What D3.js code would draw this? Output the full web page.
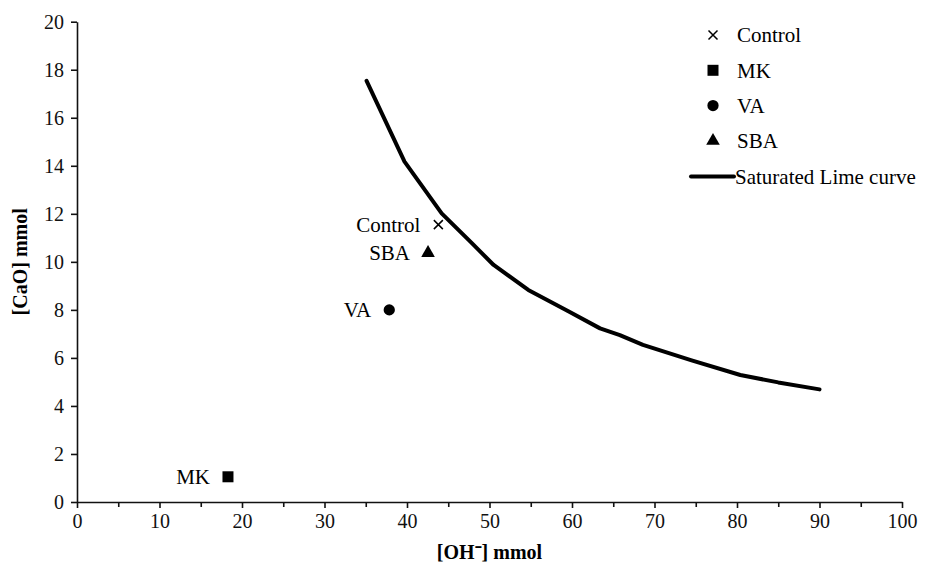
<!DOCTYPE html>
<html><head><meta charset="utf-8">
<script src="https://cdn.jsdelivr.net/npm/d3@7"></script>
<style>body{margin:0;background:#fff}svg{display:block}svg text{font-family:"Liberation Serif",serif !important}</style>
</head><body><svg id="c" width="932" height="567" font-family="Liberation Serif"></svg>
<script>
const xTicks = [0,10,20,30,40,50,60,70,80,90,100];
const yTicks = [0,2,4,6,8,10,12,14,16,18,20];
const seriesNames = ["Control","MK","VA","SBA"];
const seriesSymbols = ["x","square","circle","triangle"];
const seriesX = [43.8, 18.3, 37.85, 42.55];
const seriesY = [11.55, 1.05, 8.0, 10.37];
const curveX = [35.1, 39.7, 44.2, 47.8, 50.5, 54.7, 59.5, 63.4, 65.8, 68.6, 74.5, 80.4, 85.0, 90.0];
const curveY = [17.54, 14.17, 12.02, 10.8, 9.87, 8.83, 7.95, 7.23, 6.95, 6.54, 5.9, 5.29, 4.98, 4.69];
const curveName = "Saturated Lime curve";
const xTitle = "[OH\u207B] mmol";
const yTitle = "[CaO] mmol";
const FF = "Liberation Serif";

const svg = d3.select("#c");
const x = d3.scaleLinear().domain([0,100]).range([77,902]);
const y = d3.scaleLinear().domain([0,20]).range([502,21.7]);

// axes
const xAx = svg.append("g").attr("transform","translate(0,502)")
  .call(d3.axisBottom(x).tickValues(xTicks).tickSize(6).tickSizeOuter(0).tickPadding(4));
const xMinor = svg.append("g").attr("transform","translate(0,502)")
  .call(d3.axisBottom(x).tickValues(d3.range(5,100,10)).tickSize(5).tickFormat(""));
xMinor.select(".domain").remove();
const yAx = svg.append("g").attr("transform","translate(77,0)")
  .call(d3.axisLeft(y).tickValues(yTicks).tickSize(6).tickSizeOuter(0).tickPadding(7));
[xAx,yAx,xMinor].forEach(g=>{
  g.attr("font-family",FF).attr("font-size",20);
  g.selectAll("path,line").attr("stroke","#111").attr("stroke-width",1.6);
  g.selectAll("text").attr("font-size",20).attr("fill","#111").attr("font-family",FF);
});
xAx.selectAll("text").attr("dy","0.82em");
yAx.selectAll("text").attr("dy","0.34em");

// titles
svg.append("text").attr("x",x(50)).attr("y",559).attr("text-anchor","middle").attr("font-family",FF)
  .attr("font-size",20).attr("font-weight","bold").text(xTitle);
svg.append("text").attr("transform",`translate(27,${y(10)}) rotate(-90)`).attr("text-anchor","middle")
  .attr("font-family",FF).attr("font-size",20).attr("font-weight","bold").text(yTitle);

// curve
const line = d3.line().x(d=>x(d[0])).y(d=>y(d[1]));
svg.append("path").datum(curveX.map((v,i)=>[v,curveY[i]]))
  .attr("d",line).attr("fill","none").attr("stroke","#000").attr("stroke-width",4)
  .attr("stroke-linejoin","round").attr("stroke-linecap","round");

function drawSym(g,type,cx,cy){
  if(type==="x"){
    const s=4.5;
    g.append("path").attr("d",`M${cx-s},${cy-s}L${cx+s},${cy+s}M${cx-s},${cy+s}L${cx+s},${cy-s}`)
     .attr("stroke","#000").attr("stroke-width",1.5);
  } else {
    const sym = type==="square"?d3.symbolSquare:type==="circle"?d3.symbolCircle:d3.symbolTriangle;
    const size = type==="square"?121:type==="circle"?100:80;
    g.append("path").attr("d",d3.symbol().type(sym).size(size)())
     .attr("transform",`translate(${cx},${cy})`).attr("fill","#000");
  }
}

// points + labels
seriesNames.forEach((n,i)=>{
  const cx=x(seriesX[i]), cy=y(seriesY[i]);
  drawSym(svg,seriesSymbols[i],cx,cy);
  svg.append("text").attr("x",cx-18).attr("y",cy).attr("dy","0.35em").attr("text-anchor","end")
    .attr("font-family",FF).attr("font-size",21).text(n);
});

// legend
const lg = svg.append("g");
seriesNames.forEach((n,i)=>{
  const ly = 35 + i*35.3;
  drawSym(lg,seriesSymbols[i],713,ly);
  lg.append("text").attr("x",737).attr("y",ly).attr("dy","0.35em").attr("font-family",FF).attr("font-size",21).text(n);
});
lg.append("line").attr("x1",691).attr("x2",734).attr("y1",176.5).attr("y2",176.5)
  .attr("stroke","#000").attr("stroke-width",4).attr("stroke-linecap","round");
lg.append("text").attr("x",735).attr("y",176.5).attr("dy","0.35em").attr("font-family",FF).attr("font-size",21).text(curveName);
</script></body></html>
